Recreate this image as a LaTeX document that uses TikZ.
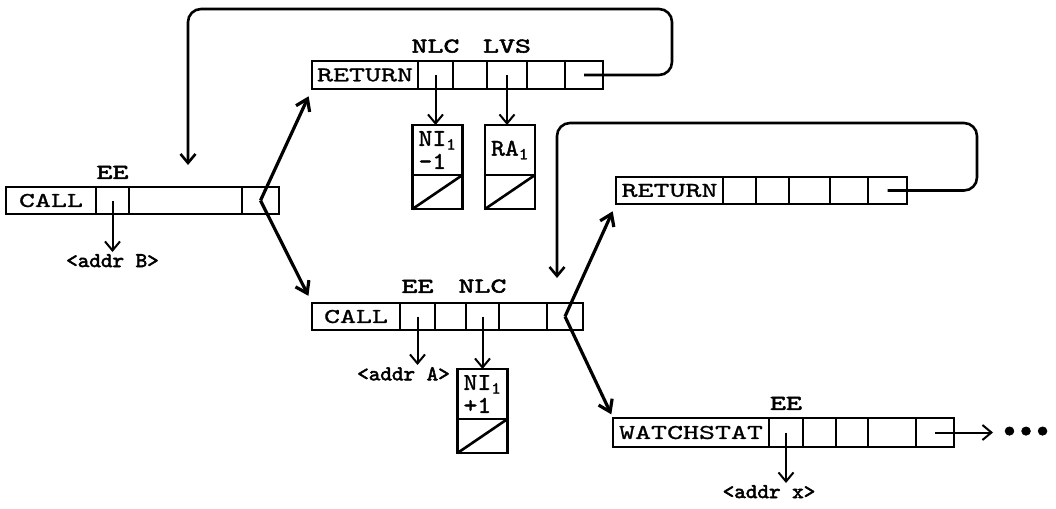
\documentclass[tikz,border=0pt]{standalone}
\usepackage{fontspec}
\newfontfamily\recfont{lmmono10-regular.otf}[FakeStretch=1.45, FakeBold=1]
\newfontfamily\lblfont{lmmono10-regular.otf}[FakeStretch=1.45, FakeBold=2.5]
\newfontfamily\addrfont{lmmono10-regular.otf}[FakeStretch=1.05, FakeBold=2.5]
\newfontfamily\valfont{lmmono10-regular.otf}[FakeStretch=1.1, FakeBold=1.5]
\usetikzlibrary{arrows.meta, positioning}

\begin{document}
\begin{tikzpicture}[x=1pt, y=-1pt,
    cell/.style={draw, line width=2.4pt, inner sep=0pt, outer sep=0pt,
                 minimum height=27pt, font=\recfont\fontsize{21}{23}\selectfont},
    lbl/.style={font=\lblfont\fontsize{21}{23}\selectfont, inner sep=0pt},
    addr/.style={font=\addrfont\fontsize{21}{23}\selectfont, inner sep=2pt},
    val/.style={draw, line width=2.4pt, inner sep=0pt, outer sep=0pt, minimum width=50pt,
                align=left, font=\valfont\fontsize{24}{23}\selectfont},
    ptr/.style={-{Straight Barb[length=9pt, width=15pt]}, line width=2pt},
    branch/.style={-{Straight Barb[length=11pt, width=15pt]}, line width=3.2pt},
    backln/.style={ptr, line width=2.6pt, rounded corners=13pt}]
  \useasboundingbox (0,0) rectangle (1056,508);

  \node[cell, minimum width=90pt, anchor=north west] (lc1) at (6,187) {CALL};
  \node[cell, minimum width=33pt, right=0pt of lc1] (lc2) {};
  \node[cell, minimum width=113pt, right=0pt of lc2] (lc3) {};
  \node[cell, minimum width=37pt, right=0pt of lc3] (lc4) {};

  \node[cell, minimum width=106pt, minimum height=28pt, anchor=north west] (ra1) at (312,61) {RETURN};
  \node[cell, minimum width=35pt, minimum height=28pt, right=0pt of ra1] (ra2) {};
  \node[cell, minimum width=34pt, minimum height=28pt, right=0pt of ra2] (ra3) {};
  \node[cell, minimum width=40pt, minimum height=28pt, right=0pt of ra3] (ra4) {};
  \node[cell, minimum width=38pt, minimum height=28pt, right=0pt of ra4] (ra5) {};
  \node[cell, minimum width=38pt, minimum height=28pt, right=0pt of ra5] (ra6) {};

  \node[cell, minimum width=107pt, anchor=north west] (rb1) at (616,177) {RETURN};
  \node[cell, minimum width=33pt, right=0pt of rb1] (rb2) {};
  \node[cell, minimum width=33pt, right=0pt of rb2] (rb3) {};
  \node[cell, minimum width=41pt, right=0pt of rb3] (rb4) {};
  \node[cell, minimum width=38pt, right=0pt of rb4] (rb5) {};
  \node[cell, minimum width=39pt, right=0pt of rb5] (rb6) {};

  \node[cell, minimum width=88pt, anchor=north west] (mc1) at (312,303) {CALL};
  \node[cell, minimum width=35pt, right=0pt of mc1] (mc2) {};
  \node[cell, minimum width=31pt, right=0pt of mc2] (mc3) {};
  \node[cell, minimum width=33pt, right=0pt of mc3] (mc4) {};
  \node[cell, minimum width=48pt, right=0pt of mc4] (mc5) {};
  \node[cell, minimum width=36pt, right=0pt of mc5] (mc6) {};

  \node[cell, minimum width=156pt, minimum height=29pt, anchor=north west] (ws1) at (613,418) {WATCHSTAT};
  \node[cell, minimum width=34pt, minimum height=29pt, right=0pt of ws1] (ws2) {};
  \node[cell, minimum width=33pt, minimum height=29pt, right=0pt of ws2] (ws3) {};
  \node[cell, minimum width=32pt, minimum height=29pt, right=0pt of ws3] (ws4) {};
  \node[cell, minimum width=48pt, minimum height=29pt, right=0pt of ws4] (ws5) {};
  \node[cell, minimum width=38pt, minimum height=29pt, right=0pt of ws5] (ws6) {};

  \node[lbl, above=8pt of lc2] (lcee) {EE};
  \node[lbl, above=8pt of ra2] (ranlc) {NLC};
  \node[lbl, above=8pt of ra4] (ralvs) {LVS};
  \node[lbl, above=10pt of mc2] (mcee) {EE};
  \node[lbl, above=10pt of mc4] (mcnlc) {NLC};
  \node[lbl, above=8pt of ws2] (wsee) {EE};

  \node[addr, below=38pt of lc2] (addrB) {<addr B>};
  \node[addr, below=35pt of mc2, xshift=-14pt] (addrA) {<addr A>};
  \node[addr, below=36pt of ws2, xshift=-17pt] (addrX) {<addr x>};

  \node[val, minimum height=50pt, below=36pt of ra2, xshift=2pt] (nia) {NI\textsubscript{1}\\-1};
  \node[val, minimum height=34pt, below=0pt of nia] (nib) {};
  \node[val, minimum height=50pt, below=36pt of ra4, xshift=3pt] (raa) {RA\textsubscript{1}};
  \node[val, minimum height=34pt, below=0pt of raa] (rab) {};
  \node[val, minimum height=50pt, below=39pt of mc4] (nic) {NI\textsubscript{1}\\+1};
  \node[val, minimum height=34pt, below=0pt of nic] (nid) {};
  \draw[line width=2.6pt] (nib.south west) -- (nib.north east);
  \draw[line width=2.6pt] (rab.south west) -- (rab.north east);
  \draw[line width=2.6pt] (nid.south west) -- (nid.north east);

  \node[font=\addrfont\fontsize{30}{30}\selectfont, inner sep=0pt, right=47pt of ws6] (more) {\textbullet\textbullet\textbullet};

  \draw[ptr] (lc2.center) -- (addrB);
  \draw[ptr] (mc2.center) -- (mc2.center |- addrA.north);
  \draw[ptr] (ws2.center) -- (ws2.center |- addrX.north);
  \draw[ptr] (ra2.center) -- (ra2.center |- nia.north);
  \draw[ptr] (ra4.center) -- (ra4.center |- raa.north);
  \draw[ptr] (mc4.center) -- (nic);
  \draw[ptr, shorten >=8pt] (ws6.center) -- (more);

  \draw[branch, shorten >=8pt] (lc4.center) -- (ra1.south west);
  \draw[branch, shorten >=8pt] (lc4.center) -- (mc1.north west);
  \draw[branch, shorten >=8pt] (mc6.center) -- (rb1.south west);
  \draw[branch, shorten >=4pt] (mc6.center) -- (ws1.north west);

  \coordinate (raturn) at (672,9);
  \coordinate (lcin) at (188,165);
  \draw[backln] (ra6.center) -| (raturn) -| (lcin);
  \coordinate (rbturn) at (977,123);
  \coordinate (mcin) at (557,278);
  \draw[backln] (rb6.center) -| (rbturn) -| (mcin);
\end{tikzpicture}
\end{document}
